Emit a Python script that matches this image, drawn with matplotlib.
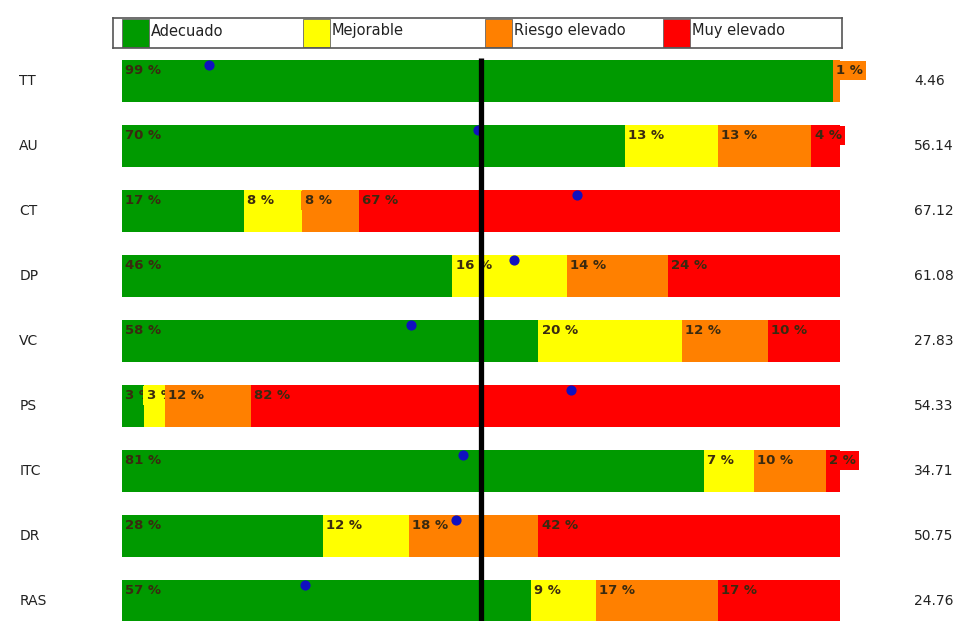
import matplotlib.pyplot as plt
from matplotlib.patches import Rectangle

# data
rows = ["TT", "AU", "CT", "DP", "VC", "PS", "ITC", "DR", "RAS"]
adecuado = [99, 70, 17, 46, 58, 3, 81, 28, 57]
mejorable = [0, 13, 8, 16, 20, 3, 7, 12, 9]
riesgo = [1, 13, 8, 14, 12, 12, 10, 18, 17]
muy_elevado = [0, 4, 67, 24, 10, 82, 2, 42, 17]
dots = [12.1, 49.6, 63.4, 54.6, 40.3, 62.5, 47.5, 46.5, 25.5]
scores = ["4.46", "56.14", "67.12", "61.08", "27.83", "54.33", "34.71", "50.75", "24.76"]

categories = ["Adecuado", "Mejorable", "Riesgo elevado", "Muy elevado"]
colors = ["#009a00", "#ffff00", "#ff8000", "#ff0000"]

plt.rcParams['font.family'] = ['DejaVu Sans']

W, H = 966, 621
fig = plt.figure(figsize=(W / 100, H / 100), dpi=100)

# main axes: x 0..100 maps to pixel 122..840, rows 65 px apart
ax = fig.add_axes([122 / W, 0, 718 / W, (621 - 48) / H])
ax.set_xlim(0, 100)
ax.set_ylim((621 - 81) / 65, (48 - 81) / 65)
ax.axis("off")

series = [adecuado, mejorable, riesgo, muy_elevado]
bar_h = 0.65
for i, name in enumerate(rows):
    left = 0
    for vals, col in zip(series, colors):
        v = vals[i]
        if v > 0:
            ax.barh(i, v, left=left, height=bar_h, color=col, zorder=1)
            ax.text(left + 0.45, i - bar_h / 2 + 0.065, f"{v} %", ha="left", va="top",
                    fontsize=9.5, fontweight="bold", color="#3a2a10", zorder=3,
                    bbox=dict(boxstyle="square,pad=0.25", fc=col, ec="none"))
        left += v
    ax.text(-14.3, i, name, ha="left", va="center", fontsize=10,
            color="#222222", clip_on=False)
    ax.text(110.3, i, scores[i], ha="left", va="center", fontsize=10,
            color="#222222", clip_on=False)

ax.scatter(dots, [i - bar_h / 2 + 0.08 for i in range(len(rows))], s=40,
           color="#1010c0", zorder=4)
ax.plot([50, 50], [(58 - 81) / 65, (621 - 81) / 65], color="black", lw=3.8,
        zorder=5, solid_capstyle="butt")

# legend box along the top
lax = fig.add_axes([113 / W, 1 - 48 / H, (842 - 113) / W, 30 / H])
lax.set_xlim(113, 842)
lax.set_ylim(0, 30)
lax.set_xticks([])
lax.set_yticks([])
for s in lax.spines.values():
    s.set_color("#555555")
    s.set_linewidth(1.2)
patch_x = [122, 303, 485, 663]
for x, col, lab in zip(patch_x, colors, categories):
    lax.add_patch(Rectangle((x, 1), 27, 28, fc=col, ec="#666666", lw=0.6))
    lax.text(x + 29, 17, lab, ha="left", va="center", fontsize=10.5, color="#222222")

fig.savefig("out.png", dpi=100)
